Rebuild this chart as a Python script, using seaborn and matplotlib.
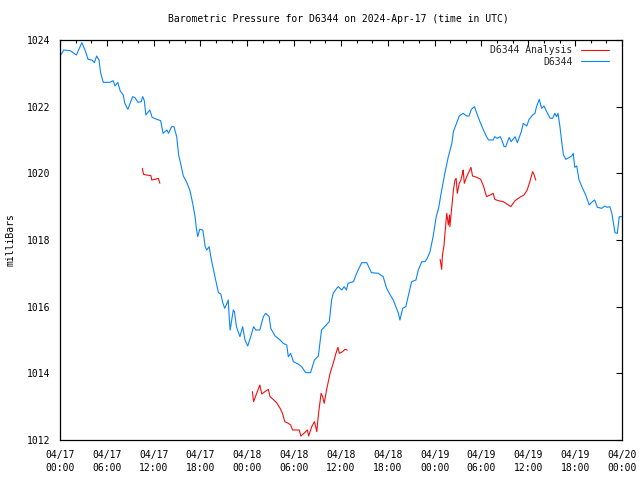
import numpy as np
import pandas as pd
import matplotlib
matplotlib.use("Agg")
import matplotlib.pyplot as plt
import matplotlib.dates as mdates
from matplotlib.lines import Line2D
import seaborn as sns

# ---------------- data ----------------
START = "2024-04-17 00:00"
TITLE = "Barometric Pressure for D6344 on 2024-Apr-17 (time in UTC)"
YLABEL = "milliBars"
OBS_LABEL = "D6344"
ANA_LABEL = "D6344 Analysis"

obs_hours = [0.0, 0.5, 1.3, 2.1, 2.8, 3.2, 3.6, 4.1, 4.4, 4.7, 5.0, 5.2, 5.55, 6.4, 6.8, 7.05,
             7.4, 7.7, 8.1, 8.3, 8.7, 9.3, 9.6, 10.0, 10.4, 10.6, 10.8, 11.0, 11.5, 11.8, 12.4,
             12.9, 13.2, 13.7, 13.9, 14.3, 14.6, 14.95, 15.2, 15.4, 15.8, 16.2, 16.65, 17.0,
             17.3, 17.5, 17.65, 17.9, 18.3, 18.6, 18.8, 19.1, 19.4, 19.85, 20.3, 20.6, 20.85,
             21.1, 21.4, 21.55, 21.7, 21.8, 22.2, 22.35, 22.6, 23.05, 23.4, 23.7, 24.05, 24.5,
             24.8, 25.1, 25.6, 26.05, 26.35, 26.8, 27.0, 27.55, 28.2, 28.6, 29.05, 29.25, 29.55,
             29.9, 30.5, 30.95, 31.5, 32.1, 32.6, 33.1, 33.5, 34.1, 34.5, 34.8, 35.0, 35.45,
             35.65, 36.1, 36.4, 36.7, 36.9, 37.6, 38.0, 38.65, 39.3, 39.9, 40.8, 41.4, 41.85,
             42.3, 42.7, 43.1, 43.35, 43.55, 43.9, 44.3, 44.6, 45.05, 45.6, 45.9, 46.35, 46.75,
             47.05, 47.4, 47.8, 48.2, 48.5, 48.9, 49.3, 49.75, 50.2, 50.4, 50.8, 51.15, 51.65,
             52.1, 52.4, 52.7, 53.1, 53.4, 53.8, 54.25, 54.65, 54.9, 55.5, 55.7, 56.0, 56.4,
             56.6, 56.9, 57.1, 57.55, 57.8, 58.3, 58.6, 59.1, 59.35, 59.8, 60.1, 60.55, 60.85,
             61.05, 61.4, 61.7, 62.0, 62.35, 62.8, 63.1, 63.4, 63.6, 63.8, 64.05, 64.3, 64.5,
             64.8, 65.25, 65.55, 65.75, 65.95, 66.2, 66.5, 66.95, 67.35, 67.8, 68.2, 68.5,
             68.85, 69.4, 69.8, 70.1, 70.45, 70.7, 70.9, 71.1, 71.4, 71.65, 72.0]
obs_mb = [1023.52, 1023.70, 1023.68, 1023.55, 1023.92, 1023.70, 1023.42, 1023.40, 1023.32,
          1023.52, 1023.40, 1023.02, 1022.73, 1022.73, 1022.78, 1022.62, 1022.73, 1022.48,
          1022.35, 1022.10, 1021.92, 1022.30, 1022.27, 1022.13, 1022.15, 1022.30, 1022.18,
          1021.75, 1021.90, 1021.68, 1021.62, 1021.58, 1021.20, 1021.30, 1021.20, 1021.40,
          1021.40, 1021.10, 1020.55, 1020.35, 1019.92, 1019.75, 1019.48, 1019.10, 1018.70,
          1018.30, 1018.10, 1018.32, 1018.30, 1017.80, 1017.70, 1017.80, 1017.40, 1016.90,
          1016.42, 1016.38, 1016.12, 1015.95, 1016.10, 1016.20, 1015.60, 1015.30, 1015.90,
          1015.85, 1015.40, 1015.10, 1015.40, 1015.00, 1014.82, 1015.15, 1015.40, 1015.30,
          1015.30, 1015.70, 1015.80, 1015.70, 1015.35, 1015.12, 1015.00, 1014.90, 1014.85,
          1014.50, 1014.60, 1014.35, 1014.28, 1014.20, 1014.02, 1014.02, 1014.40, 1014.52,
          1015.30, 1015.45, 1015.55, 1016.20, 1016.40, 1016.55, 1016.60, 1016.50, 1016.60,
          1016.50, 1016.70, 1016.75, 1017.00, 1017.32, 1017.32, 1017.02, 1017.00, 1016.90,
          1016.55, 1016.35, 1016.20, 1015.95, 1015.80, 1015.60, 1015.95, 1016.00, 1016.30,
          1016.75, 1016.80, 1017.10, 1017.35, 1017.35, 1017.45, 1017.65, 1018.10, 1018.70,
          1018.95, 1019.50, 1020.00, 1020.50, 1020.90, 1021.25, 1021.50, 1021.72, 1021.80,
          1021.72, 1021.72, 1021.92, 1022.00, 1021.80, 1021.55, 1021.30, 1021.10, 1021.00,
          1021.00, 1021.10, 1021.05, 1021.10, 1021.00, 1020.80, 1020.80, 1021.08, 1020.95,
          1021.10, 1020.92, 1021.25, 1021.50, 1021.42, 1021.62, 1021.75, 1021.80, 1022.00,
          1022.22, 1021.95, 1022.02, 1021.85, 1021.65, 1021.65, 1021.80, 1021.70, 1021.80,
          1021.40, 1020.90, 1020.55, 1020.42, 1020.48, 1020.52, 1020.60, 1020.18, 1020.22,
          1019.80, 1019.55, 1019.35, 1019.05, 1019.15, 1019.20, 1018.98, 1018.95, 1019.02,
          1018.98, 1019.00, 1018.80, 1018.50, 1018.22, 1018.20, 1018.70, 1018.70]

ana1_hours = [10.55, 10.7, 11.1, 11.65, 11.75, 12.2, 12.6, 12.8]
ana1_mb = [1020.15, 1019.97, 1019.95, 1019.93, 1019.80, 1019.82, 1019.85, 1019.70]

ana2_hours = [24.65, 24.8, 25.2, 25.6, 25.85, 26.25, 26.7, 26.9, 27.3, 27.75, 28.2, 28.5, 28.8,
              29.25, 29.55, 29.8, 30.65, 30.85, 31.25, 31.7, 31.85, 32.25, 32.6, 32.9, 33.1,
              33.45, 33.65, 33.85, 34.15, 34.6, 35.0, 35.35, 35.6, 35.8, 36.2, 36.5, 36.8]
ana2_mb = [1013.45, 1013.15, 1013.40, 1013.65, 1013.38, 1013.45, 1013.52, 1013.30, 1013.22,
           1013.12, 1012.95, 1012.80, 1012.55, 1012.50, 1012.45, 1012.30, 1012.30, 1012.12,
           1012.20, 1012.30, 1012.12, 1012.40, 1012.55, 1012.25, 1012.75, 1013.40, 1013.30,
           1013.10, 1013.50, 1014.00, 1014.30, 1014.60, 1014.78, 1014.60, 1014.65, 1014.72,
           1014.70]

ana3_hours = [48.7, 48.9, 49.0, 49.2, 49.3, 49.55, 49.75, 49.9, 49.95, 50.2, 50.4, 50.6, 50.75,
              50.9, 51.15, 51.35, 51.6, 51.65, 51.8, 52.1, 52.4, 52.65, 52.85, 53.4, 53.9,
              54.25, 54.65, 55.1, 55.5, 55.7, 56.15, 56.8, 57.25, 57.75, 58.3, 58.9, 59.45,
              59.85, 60.2, 60.55, 60.7, 60.95]
ana3_mb = [1017.42, 1017.12, 1017.55, 1017.85, 1018.15, 1018.80, 1018.45, 1018.75, 1018.40,
           1019.00, 1019.50, 1019.80, 1019.85, 1019.40, 1019.70, 1019.80, 1020.02, 1020.10,
           1019.70, 1019.90, 1020.05, 1020.18, 1019.92, 1019.88, 1019.82, 1019.62, 1019.30,
           1019.35, 1019.40, 1019.22, 1019.18, 1019.15, 1019.08, 1019.00, 1019.18, 1019.28,
           1019.35, 1019.50, 1019.75, 1020.05, 1019.98, 1019.80]

# ---------------- frames ----------------
t0 = pd.Timestamp(START)
obs = pd.DataFrame({"time": t0 + pd.to_timedelta(obs_hours, unit="h"), "mb": obs_mb})
ana = pd.concat([
    pd.DataFrame({"time": t0 + pd.to_timedelta(h, unit="h"), "mb": v, "seg": i})
    for i, (h, v) in enumerate([(ana1_hours, ana1_mb), (ana2_hours, ana2_mb), (ana3_hours, ana3_mb)])
], ignore_index=True)

# ---------------- plot ----------------
sns.set_theme(style="white")
plt.rcParams["font.family"] = ["DejaVu Sans Mono", "DejaVu Sans"]

BLUE = "#0A84FF"
RED = "#F01010"
FS = 7
LW = 0.8

fig = plt.figure(figsize=(6.4, 4.8), dpi=100)
ax = fig.add_axes([60 / 640, 1 - 440 / 480, 562 / 640, 400 / 480])

sns.lineplot(data=ana, x="time", y="mb", units="seg", estimator=None, color=RED,
             linewidth=LW, ax=ax, legend=False)
sns.lineplot(data=obs, x="time", y="mb", color=BLUE, linewidth=LW, ax=ax, legend=False)

ax.set_xlim(t0, t0 + pd.Timedelta(hours=72))
ax.set_ylim(1012, 1024)
ax.set_yticks(np.arange(1012, 1025, 2))
ax.xaxis.set_major_locator(mdates.HourLocator(byhour=range(0, 24, 6)))
ax.xaxis.set_minor_locator(mdates.HourLocator(byhour=range(0, 24, 2)))
ax.xaxis.set_major_formatter(mdates.DateFormatter("%m/%d\n%H:%M"))

ax.set_xlabel("")
ax.set_ylabel("")
ax.tick_params(axis="both", which="both", direction="in", top=True, right=True,
               colors="black", labelsize=FS, width=0.8)
ax.tick_params(axis="both", which="major", length=4.5, pad=7)
ax.tick_params(axis="x", which="minor", length=2.2)
for lab in ax.get_xticklabels():
    lab.set_linespacing(1.35)
for s in ax.spines.values():
    s.set_color("black")
    s.set_linewidth(0.9)
ax.grid(False)

fig.text(338 / 640, 1 - 19 / 480, TITLE, ha="center", va="center", fontsize=FS, color="black")
fig.text(11 / 640, 0.5, YLABEL, ha="center", va="center", rotation=90, fontsize=FS, color="black")

handles = [Line2D([], [], color=RED, linewidth=LW), Line2D([], [], color=BLUE, linewidth=LW)]
fig.legend(handles, [ANA_LABEL, OBS_LABEL], loc="upper right",
           bbox_to_anchor=(609 / 640, 1 - 45 / 480), bbox_transform=fig.transFigure,
           frameon=False, markerfirst=False, fontsize=FS, handlelength=2.9,
           handletextpad=0.85, labelspacing=0.17, borderaxespad=0.0, borderpad=0.0)

fig.savefig("out.png", dpi=100, facecolor="white")
